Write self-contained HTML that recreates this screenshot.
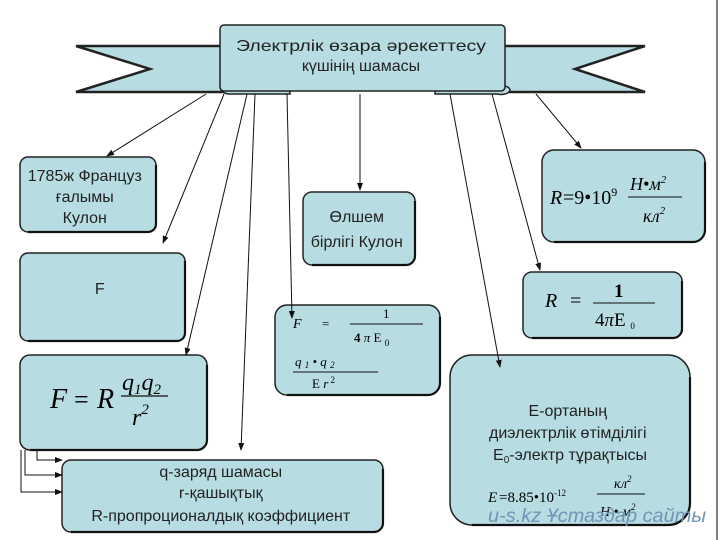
<!DOCTYPE html>
<html><head><meta charset="utf-8"><style>
html,body{margin:0;padding:0;background:#fff;}
svg{display:block;}
text{font-family:"Liberation Sans",sans-serif;}
.s{font-family:"Liberation Serif",serif;font-style:italic;}
.r{font-family:"Liberation Serif",serif;}
</style></head><body>
<svg width="720" height="540" viewBox="0 0 720 540" xmlns="http://www.w3.org/2000/svg">
<defs>
<marker id="a" markerWidth="8" markerHeight="8" refX="7" refY="4" orient="auto" markerUnits="userSpaceOnUse"><path d="M0,1 L8,4 L0,7 z" fill="#111"/></marker>
</defs>
<g fill="#b7dce2" stroke="#222" stroke-width="1.5">
<polygon points="76,46 225,46 225,92 76,92 150,69" stroke-width="2.5"/>
<polygon points="645,46 498,46 498,92 645,92 575,69" stroke-width="2.5"/>
<path d="M222,86 h68 v8 h-60 a8,4 0 0 1 -8,-4 z"/>
<path d="M435,86 h70 a8,4 0 0 1 -8,8 h-62 z"/>
<rect x="220" y="25" width="285" height="66" rx="4"/>
</g>
<g fill="#b7dce2" stroke="#222" stroke-width="1.5">
<rect x="20" y="157" width="136" height="75" rx="8"/>
<rect x="20" y="253" width="165" height="88" rx="8"/>
<rect x="20" y="355" width="187" height="95" rx="10"/>
<rect x="62" y="460" width="321" height="72" rx="9"/>
<rect x="303" y="192" width="112" height="73" rx="9"/>
<rect x="275" y="305" width="165" height="90" rx="12"/>
<rect x="542" y="150" width="163" height="92" rx="12"/>
<rect x="523" y="272" width="159" height="66" rx="9"/>
<rect x="450" y="355" width="240" height="170" rx="22"/>
</g>
<g fill="none" stroke="#111" stroke-width="2.2">
<path d="M156,165 V224 a8,8 0 0 1 -8,8 H28"/>
<path d="M185,261 V333 a8,8 0 0 1 -8,8 H28"/>
<path d="M207,365 V440 a10,10 0 0 1 -10,10 H30"/>
<path d="M383,469 V523 a9,9 0 0 1 -9,9 H71"/>
<path d="M415,201 V256 a9,9 0 0 1 -9,9 H312"/>
<path d="M440,317 V383 a12,12 0 0 1 -12,12 H287"/>
<path d="M705,162 V230 a12,12 0 0 1 -12,12 H554"/>
<path d="M682,281 V329 a9,9 0 0 1 -9,9 H532"/>
<path d="M690,377 V503 a22,22 0 0 1 -22,22 H472"/>
</g>
<text x="361" y="51" font-size="16" text-anchor="middle" fill="#222" textLength="250" lengthAdjust="spacingAndGlyphs">Электрлік өзара әрекеттесу</text>
<text x="361" y="71" font-size="16" text-anchor="middle" fill="#222">күшінің шамасы</text>

<text font-size="16" fill="#222" text-anchor="middle">
<tspan x="87" y="181">1785ж Француз</tspan>
<tspan x="87" y="202">ғалымы</tspan>
<tspan x="87" y="223">Кулон</tspan>
<tspan x="102" y="294">F</tspan>
<tspan x="359" y="222">Өлшем</tspan>
<tspan x="359" y="247">бірлігі Кулон</tspan>
<tspan x="223" y="477">q-заряд шамасы</tspan>
<tspan x="223" y="498">r-қашықтық</tspan>
<tspan x="223" y="521">R-пропроционалдық коэффициент</tspan>
<tspan x="570" y="416">Е-ортаның</tspan>
<tspan x="570" y="438">диэлектрлік өтімділігі</tspan>
<tspan x="570" y="460">Е<tspan font-size="10" dy="3">0</tspan><tspan dy="-3">-электр тұрақтысы</tspan></tspan>
</text>

<text class="s" x="50" y="408" font-size="28">F</text>
<text class="r" x="74" y="408" font-size="26">=</text>
<text class="s" x="97" y="408" font-size="28">R</text>
<text class="s" x="122" y="390" font-size="24">q<tspan font-size="15" dy="4" class="r">1</tspan><tspan dy="-4">q</tspan><tspan font-size="15" dy="4" class="r">2</tspan></text>
<line x1="121" y1="396" x2="168" y2="396" stroke="#111" stroke-width="1.2"/>
<text class="s" x="132" y="425" font-size="24">r<tspan font-size="15" dy="-11" class="r">2</tspan></text>

<text class="s" x="293" y="328" font-size="14">F</text>
<text class="r" x="322" y="328" font-size="13">=</text>
<text class="r" x="383" y="318" font-size="13">1</text>
<line x1="350" y1="324" x2="423" y2="324" stroke="#111"/>
<text class="r" x="354" y="342" font-size="13" font-weight="bold">4 <tspan font-style="italic" font-weight="normal">π</tspan> <tspan font-weight="normal">E  </tspan><tspan font-size="9" dy="4" font-weight="normal">0</tspan></text>
<text class="s" x="295" y="366" font-size="13">q <tspan font-size="9" dy="2">1</tspan><tspan dy="-2">  •  q </tspan><tspan font-size="9" dy="2">2</tspan></text>
<line x1="293" y1="372" x2="378" y2="372" stroke="#111"/>
<text class="r" x="312" y="388" font-size="13">E  <tspan font-style="italic">r</tspan><tspan font-size="9" dy="-5"> 2</tspan></text>

<text class="s" x="550" y="204" font-size="20">R</text>
<text class="r" x="563" y="204" font-size="20">=9•10<tspan font-size="12" dy="-8">9</tspan></text>
<text class="s" x="630" y="190" font-size="18">H•м<tspan font-size="11" dy="-7" class="r">2</tspan></text>
<line x1="628" y1="197" x2="682" y2="197" stroke="#111"/>
<text class="s" x="643" y="222" font-size="18">кл<tspan font-size="11" dy="-8" class="r">2</tspan></text>

<text class="s" x="545" y="307" font-size="20">R</text>
<text class="r" x="570" y="307" font-size="20">=</text>
<text class="r" x="614" y="297" font-size="19" font-weight="bold">1</text>
<line x1="593" y1="303" x2="655" y2="303" stroke="#111"/>
<text class="r" x="595" y="326" font-size="19">4<tspan font-style="italic">π</tspan>E <tspan font-size="9" dy="3">0</tspan></text>

<text class="s" x="488" y="502" font-size="15">E</text>
<text class="r" x="499" y="502" font-size="15">=8.85•10<tspan font-size="9" dy="-6">-12</tspan></text>
<text class="s" x="614" y="488" font-size="14">кл<tspan font-size="9" dy="-6" class="r">2</tspan></text>
<line x1="597" y1="494" x2="645" y2="494" stroke="#111"/>
<text class="s" x="600" y="516" font-size="14">H • м<tspan font-size="9" dy="-6" class="r">2</tspan></text>

<g stroke="#111" stroke-width="1" fill="none" marker-end="url(#a)">
<line x1="206" y1="94" x2="107" y2="156"/>
<line x1="224" y1="94" x2="163" y2="243"/>
<line x1="247" y1="94" x2="186" y2="355"/>
<line x1="255" y1="94" x2="241" y2="450"/>
<line x1="287" y1="94" x2="292" y2="318"/>
<line x1="360" y1="94" x2="360" y2="190"/>
<line x1="450" y1="94" x2="500" y2="367"/>
<line x1="492" y1="94" x2="540" y2="270"/>
<line x1="536" y1="94" x2="581" y2="148"/>
<polyline points="37,450 37,460 62,460"/>
<polyline points="25,450 25,475 62,475"/>
<polyline points="21,450 21,492 62,492"/>
</g>
<line x1="717" y1="0" x2="717" y2="540" stroke="#555" stroke-width="1.5"/>
<text x="488" y="522" font-size="19" font-style="italic" fill="#7394b5" textLength="218" lengthAdjust="spacingAndGlyphs">u-s.kz  Ұстаздар сайты</text>
</svg>
</body></html>
